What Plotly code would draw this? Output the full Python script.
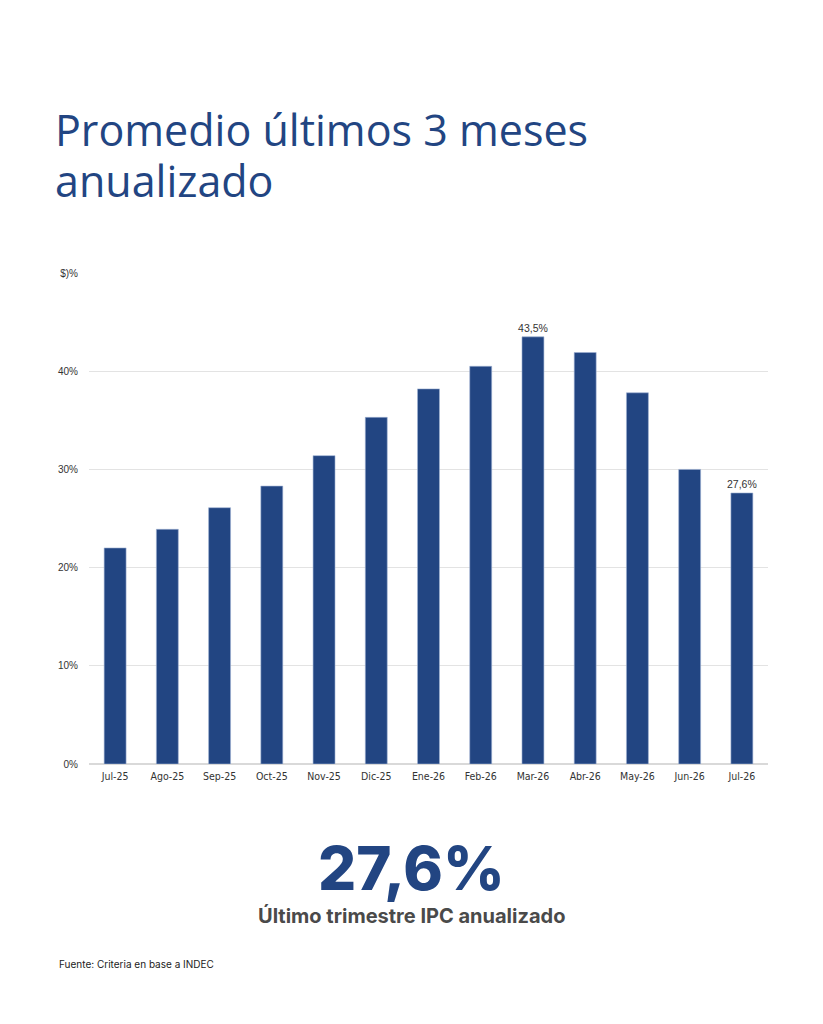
import plotly.graph_objects as go

# Data
months = ["Jul-25", "Ago-25", "Sep-25", "Oct-25", "Nov-25", "Dic-25", "Ene-26",
          "Feb-26", "Mar-26", "Abr-26", "May-26", "Jun-26", "Jul-26"]
values = [22.0, 23.9, 26.1, 28.3, 31.4, 35.3, 38.2, 40.5, 43.5, 41.9, 37.8, 30.0, 27.6]
tick_vals = [0, 10, 20, 30, 40, 50]
tick_text = ["0%", "10%", "20%", "30%", "40%", "$)%"]
labelled = {"Mar-26": "43,5%", "Jul-26": "27,6%"}

blue = "#224582"
W, H = 823, 1024
L, R, T, B = 89, 55, 273, 260
pw, ph = W - L - R, H - T - B

def px(x):  # pixel x -> paper x
    return (x - L) / pw

def py(y):  # pixel y -> paper y
    return (H - B - y) / ph

bar_text = [labelled.get(m, "") for m in months]
title_font = dict(family="Open Sans, sans-serif", size=43, color=blue, weight=400)

fig = go.Figure()
fig.add_trace(go.Bar(
    x=months, y=values, marker_color=blue,
    marker_line=dict(width=0.6, color="#9fb1d3"),
    text=bar_text, textposition="outside", cliponaxis=False, constraintext="none",
    textfont=dict(family="Liberation Sans, Arial, sans-serif", size=10.5, color="#333333"),
    hoverinfo="skip",
))

fig.update_layout(
    width=W, height=H,
    margin=dict(l=L, r=R, t=T, b=B),
    paper_bgcolor="white", plot_bgcolor="white",
    showlegend=False, bargap=0.58,
    xaxis=dict(
        showgrid=False, showline=False, ticks="", ticklabelstandoff=4,
        tickfont=dict(family="DejaVu Sans Condensed, sans-serif", size=10.5, color="#333333"),
    ),
    yaxis=dict(
        range=[0, 50], tickvals=tick_vals, ticktext=tick_text,
        showgrid=True, gridcolor="#e3e3e3", gridwidth=1,
        zeroline=True, zerolinecolor="#d9d9d9", zerolinewidth=1.5,
        showline=False, ticks="", ticklabelstandoff=10,
        tickfont=dict(family="Liberation Sans, Arial, sans-serif", size=10, color="#333333"),
    ),
    annotations=[
        dict(text="Promedio últimos 3 meses", xref="paper", yref="paper",
             x=px(53), y=py(129), xanchor="left", yanchor="middle", showarrow=False,
             height=46, font=title_font),
        dict(text="anualizado", xref="paper", yref="paper",
             x=px(53), y=py(180), xanchor="left", yanchor="middle", showarrow=False,
             height=46, font=title_font),
        dict(text="27,6%", xref="paper", yref="paper",
             x=px(411), y=py(868), xanchor="center", yanchor="middle", showarrow=False,
             font=dict(family="Inter, sans-serif", size=60, color=blue, weight=800)),
        dict(text="Último trimestre IPC anualizado", xref="paper", yref="paper",
             x=px(411), y=py(915), xanchor="center", yanchor="middle", showarrow=False,
             font=dict(family="Inter, sans-serif", size=20, color="#4a4a4a", weight=700)),
        dict(text="Fuente: Criteria en base a INDEC", xref="paper", yref="paper",
             x=px(57), y=py(964), xanchor="left", yanchor="middle", showarrow=False,
             font=dict(family="Inter, sans-serif", size=10, color="#222222")),
    ],
)

fig.write_html("out.html", config={"displayModeBar": False},
               post_script="document.body.style.margin='0';")
